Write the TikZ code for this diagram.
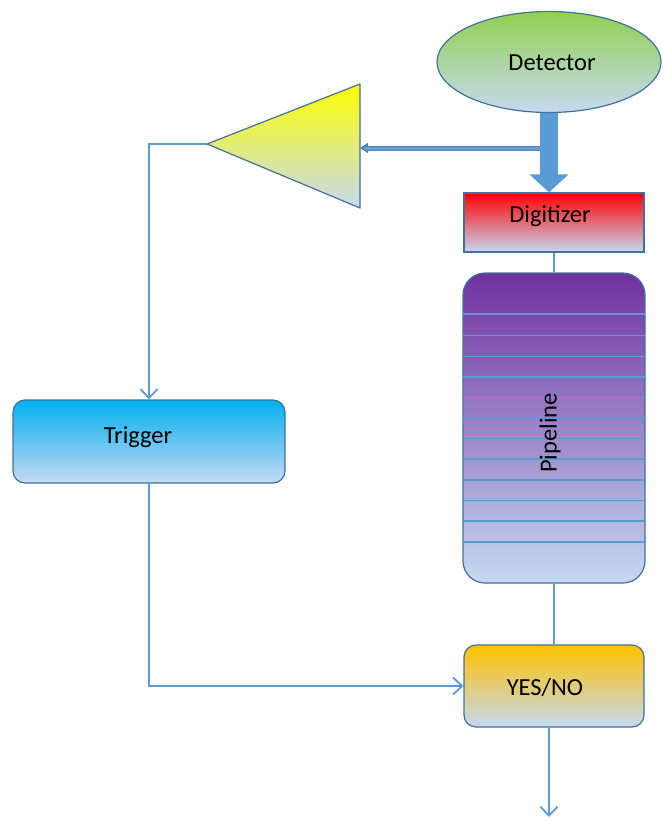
\documentclass[tikz,border=0pt]{standalone}
\usepackage{fontspec}
\setmainfont{Carlito}
\usetikzlibrary{arrows.meta,shapes.geometric,calc}
\definecolor{linkblue}{RGB}{91,155,213}
\definecolor{edgeblue}{RGB}{65,113,156}
\definecolor{paleblue}{RGB}{198,217,241}
\definecolor{detgreen}{RGB}{146,208,80}
\definecolor{trigcyan}{RGB}{0,176,240}
\definecolor{pipepurple}{RGB}{112,48,160}
\definecolor{ynorange}{RGB}{255,192,0}
\begin{document}
\begin{tikzpicture}[x=1pt,y=-1pt,
  txt/.style={font=\fontsize{24.5}{29}\selectfont, text=black},
  blockbox/.style={draw=edgeblue, line width=1.2pt, inner sep=0pt, txt},
  roundbox/.style={blockbox, rounded corners=12pt},
  thinlink/.style={draw=linkblue, line width=2pt},
  opentip/.style={-{Straight Barb[length=9pt,width=17pt,line width=1.8pt]}}
]
\useasboundingbox (0,0) rectangle (662,820);

% detector and digitizer
\node[blockbox, ellipse, minimum width=224pt, minimum height=101pt,
      top color=detgreen, bottom color=paleblue] (det) at (549,62) {};
\node[txt] at (552,63) {Detector};
\node[blockbox, minimum width=180pt, minimum height=59pt,
      top color=red, bottom color=paleblue] (dig) at (554,222.5)
      {};
\node[txt] at (550,216) {Digitizer};

% amplifier triangle
\coordinate (amptip) at (207,144);
\coordinate (amptop) at (360,84);
\coordinate (ampbot) at (360,208);
\shade[top color=yellow, bottom color=paleblue] (amptip) -- (amptop) -- (ampbot) -- cycle;
\draw[edgeblue, line width=1.2pt, line join=round] (amptip) -- (amptop) -- (ampbot) -- cycle;

% branch from the detector output to the amplifier
\coordinate (branch) at (542,148);
\coordinate (ampin) at (360,148);
\draw[linkblue!85!black, line width=5pt, -{Triangle[length=8pt,width=10pt]}] (branch) -- (ampin);
\draw[linkblue!95!white, line width=3pt, shorten >=4pt] (branch) -- (ampin);

% thick arrow detector -> digitizer
\draw[linkblue, line width=18pt, -{Triangle[length=18pt,width=38pt]}]
  (det.south) -- (det.south |- dig.north);

% trigger
\node[roundbox, minimum width=272pt, minimum height=83pt,
      top color=trigcyan, bottom color=paleblue] (trig) at (149,441.5) {};
\node[txt] at (138,437) {Trigger};

% pipeline
\node[roundbox, rounded corners=22pt, minimum width=182pt, minimum height=310pt,
      top color=pipepurple, bottom color=paleblue] (pipe) at (554,428) {};
\foreach \yy in {314,335.5,356.5,377,397.5,418,438.5,459,480,500.5,521,542}
  \draw[linkblue, line width=1.3pt] (pipe.west |- 0,\yy) -- (pipe.east |- 0,\yy);
\node[txt, rotate=90] at (550,433) {Pipeline};

% decision
\node[roundbox, minimum width=180pt, minimum height=82pt,
      top color=ynorange, bottom color=paleblue] (yn) at (554,686) {};
\node[txt] at (545,688) {YES/NO};
\coordinate (out) at (549,817);

% thin connectors
\draw[thinlink] (dig.south) -- (pipe.north);
\draw[thinlink] (pipe.south) -- (yn.north);
\draw[thinlink, opentip] (amptip) -| (trig.north);
\draw[thinlink, opentip] (trig.south) |- (yn.west);
\draw[thinlink, opentip] (yn.south -| out) -- (out);
\end{tikzpicture}
\end{document}
